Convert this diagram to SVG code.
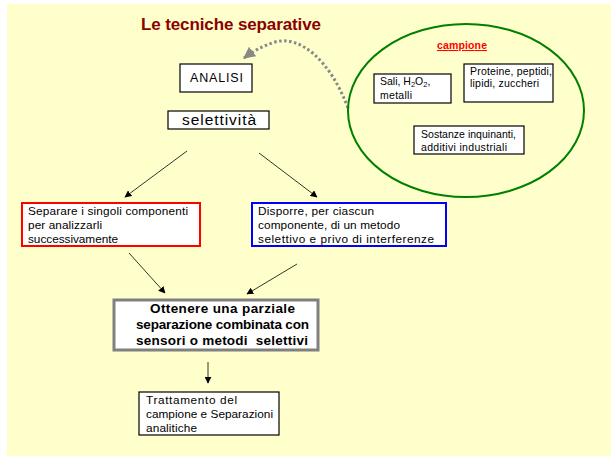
<svg xmlns="http://www.w3.org/2000/svg" width="611" height="457" viewBox="0 0 611 457">
<style>
  text { font-family: "Liberation Sans", "DejaVu Sans", sans-serif; fill: #000; }
  .box { fill: #fff; stroke: #000; stroke-width: 1.2; }
  .t { font-size: 11.8px; }
  .s { font-size: 10.5px; }
  .b { font-size: 13.5px; font-weight: bold; }
  .conn { stroke: #000; stroke-width: 0.8; fill: none; marker-end: url(#ah); }
</style>
<defs>
  <marker id="ah" viewBox="0 0 10 10" refX="9" refY="5" markerWidth="7" markerHeight="7" orient="auto" markerUnits="userSpaceOnUse">
    <path d="M0,0 L10,5 L0,10 z" fill="#000"/>
  </marker>
  <marker id="ahg" viewBox="0 0 10 10" refX="9" refY="5" markerWidth="4" markerHeight="4" orient="auto">
    <path d="M0,0 L10,5 L0,10 z" fill="#888"/>
  </marker>
</defs>
<rect x="0" y="0" width="611" height="457" fill="#fff"/>
<rect x="7" y="4" width="604" height="452" fill="#FFFFCC"/>

<text x="141" y="30" textLength="180" style="font-size:17px;font-weight:bold;fill:#8B0000">Le tecniche separative</text>

<g id="connectors">
  <path d="M348,108 C330,60 300,35 275,42 C262,46 252,52 244,58" stroke="#888" stroke-width="3" stroke-dasharray="2.5,2.5" fill="none" marker-end="url(#ahg)"/>
  <line class="conn" x1="187" y1="151" x2="125" y2="197"/>
  <line class="conn" x1="259" y1="153" x2="317" y2="197"/>
  <line class="conn" x1="129" y1="253" x2="165" y2="293"/>
  <line class="conn" x1="297" y1="264" x2="247" y2="294"/>
  <line class="conn" x1="208" y1="362" x2="208" y2="383"/>
</g>

<g id="analisi">
  <rect class="box" x="180" y="64" width="72" height="28"/>
  <text x="190" y="82" textLength="53" style="font-size:12.5px">ANALISI</text>
</g>

<g id="selettivita">
  <rect class="box" x="168" y="111" width="101" height="18"/>
  <text x="182" y="125" textLength="74" style="font-size:15.5px">selettività</text>
</g>

<g id="campione">
  <ellipse cx="466" cy="110.5" rx="118" ry="86.5" fill="none" stroke="#008000" stroke-width="2"/>
  <text x="437" y="49" textLength="50" style="font-size:10.5px;font-weight:bold;fill:#FF0000;text-decoration:underline">campione</text>
</g>

<g id="sali">
  <rect class="box" x="374" y="74" width="77" height="29"/>
  <text class="s" x="380" y="85">Sali, H<tspan font-size="7.5" dy="2">2</tspan><tspan dy="-2">O</tspan><tspan font-size="7.5" dy="2">2</tspan><tspan dy="-2">,</tspan></text>
  <text class="s" x="380" y="99" textLength="32">metalli</text>
</g>

<g id="proteine">
  <rect class="box" x="464" y="64" width="89" height="38"/>
  <text class="s" x="470" y="75" textLength="82">Proteine, peptidi,</text>
  <text class="s" x="470" y="87" textLength="69">lipidi, zuccheri</text>
</g>

<g id="sostanze">
  <rect class="box" x="414" y="126" width="110" height="28"/>
  <text class="s" x="421" y="138" textLength="95">Sostanze inquinanti,</text>
  <text class="s" x="421" y="151" textLength="86">additivi industriali</text>
</g>

<g id="separare">
  <rect x="22" y="203" width="178" height="43" fill="#fff" stroke="#FF0000" stroke-width="2"/>
  <text class="t" x="28" y="215" textLength="160">Separare i singoli componenti</text>
  <text class="t" x="28" y="229" textLength="74">per analizzarli</text>
  <text class="t" x="28" y="243" textLength="90">successivamente</text>
</g>

<g id="disporre">
  <rect x="252" y="203" width="194" height="43" fill="#fff" stroke="#0000FF" stroke-width="2"/>
  <text class="t" x="258" y="215" textLength="116">Disporre, per ciascun</text>
  <text class="t" x="258" y="229" textLength="142">componente, di un metodo</text>
  <text class="t" x="258" y="243" textLength="176">selettivo e privo di interferenze</text>
</g>

<g id="ottenere">
  <rect x="114" y="300" width="204" height="50" fill="#fff" stroke="#808080" stroke-width="3"/>
  <text class="b" x="150" y="313" textLength="145">Ottenere una parziale</text>
  <text class="b" x="136" y="329" textLength="173">separazione combinata con</text>
  <text class="b" x="136" y="345" textLength="172" xml:space="preserve">sensori o metodi  selettivi</text>
</g>

<g id="trattamento">
  <rect class="box" x="139" y="392" width="140" height="43"/>
  <text class="t" x="146" y="404" textLength="91">Trattamento del</text>
  <text class="t" x="146" y="418" textLength="127">campione e Separazioni</text>
  <text class="t" x="146" y="432" textLength="51">analitiche</text>
</g>
</svg>
